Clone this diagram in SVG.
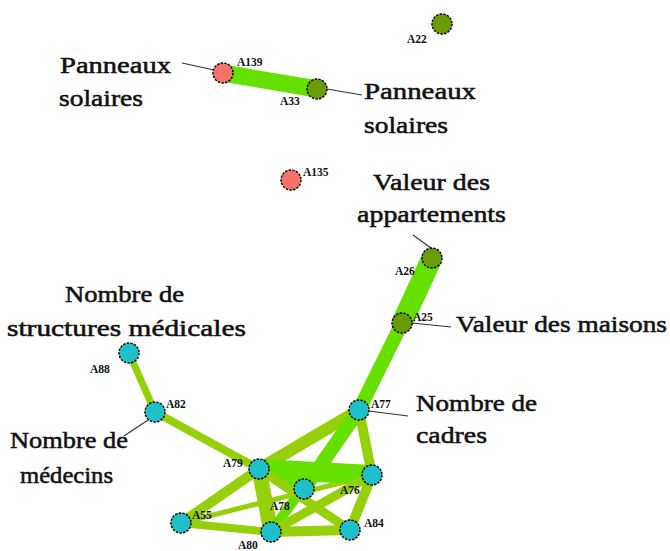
<svg xmlns="http://www.w3.org/2000/svg" width="670" height="551" viewBox="0 0 670 551">
<style>
.lbl{font-family:"Liberation Serif","DejaVu Serif",serif;font-size:24px;fill:#111;stroke:#111;stroke-width:0.55}
.nl{font-family:"Liberation Serif","DejaVu Serif",serif;font-size:11.5px;font-weight:bold;fill:#111}
.nd{stroke:#000;stroke-width:1.4;stroke-dasharray:2.5 1.2}
.red{fill:#f7736a}.olv{fill:#6a9c08}.cy{fill:#1fc0c9}
.bg{stroke:#66e000;fill:none;stroke-linecap:butt}
.yg{stroke:#96d00a;fill:none;stroke-linecap:butt}
.ld{stroke:#333;stroke-width:1.1;fill:none}
</style>
<rect width="670" height="551" fill="#fff"/>
<g id="connectors">
  <line class="bg" x1="223" y1="73" x2="317" y2="89" stroke-width="17"/>
  <line class="bg" x1="432" y1="258" x2="402" y2="323" stroke-width="21"/>
  <line class="bg" x1="402" y1="323" x2="359" y2="410" stroke-width="14"/>
  <line class="yg" x1="129" y1="353" x2="155" y2="412" stroke-width="7"/>
  <line class="yg" x1="155" y1="412" x2="259" y2="469" stroke-width="8"/>
  <line class="yg" x1="259" y1="469" x2="359" y2="410" stroke-width="12"/>
  <line class="yg" x1="181" y1="523" x2="259" y2="469" stroke-width="10"/>
  <line class="yg" x1="359" y1="410" x2="372" y2="475" stroke-width="10"/>
  <line class="yg" x1="372" y1="475" x2="350" y2="530" stroke-width="10"/>
  <line class="yg" x1="259" y1="469" x2="271" y2="532" stroke-width="15"/>
  <line class="yg" x1="271" y1="532" x2="350" y2="530" stroke-width="10"/>
  <line class="yg" x1="181" y1="523" x2="271" y2="532" stroke-width="8"/>
  <line class="yg" x1="181" y1="523" x2="372" y2="475" stroke-width="5"/>
  <line class="bg" x1="259" y1="469" x2="372" y2="475" stroke-width="20"/>
  <line class="bg" x1="359" y1="410" x2="304" y2="489" stroke-width="14"/>
  <line class="bg" x1="359" y1="410" x2="271" y2="532" stroke-width="10"/>
  <line class="bg" x1="259" y1="469" x2="304" y2="489" stroke-width="12"/>
  <line class="yg" x1="259" y1="469" x2="350" y2="530" stroke-width="9"/>
  <line class="yg" x1="271" y1="532" x2="372" y2="475" stroke-width="9"/>
  <line class="ld" x1="182" y1="63" x2="214" y2="70"/>
  <line class="ld" x1="327" y1="89" x2="362" y2="95"/>
  <line class="ld" x1="413" y1="235" x2="431" y2="248"/>
  <line class="ld" x1="412" y1="323" x2="451" y2="327"/>
  <line class="ld" x1="369" y1="411" x2="408" y2="416"/>
  <line class="ld" x1="151" y1="418" x2="124" y2="436"/>
</g>
<g id="A139"><circle class="nd red" cx="223" cy="73" r="10"/><text class="nl" x="237" y="66">A139</text></g>
<g id="A33"><circle class="nd olv" cx="317" cy="89" r="10"/><text class="nl" x="280" y="105">A33</text></g>
<g id="A22"><circle class="nd olv" cx="442" cy="24" r="10"/><text class="nl" x="407" y="43">A22</text></g>
<g id="A135"><circle class="nd red" cx="291" cy="180" r="10"/><text class="nl" x="303" y="176">A135</text></g>
<g id="A26"><circle class="nd olv" cx="432" cy="258" r="10"/><text class="nl" x="395" y="275">A26</text></g>
<g id="A25"><circle class="nd olv" cx="402" cy="323" r="10"/><text class="nl" x="413" y="321">A25</text></g>
<g id="A88"><circle class="nd cy" cx="129" cy="353" r="10"/><text class="nl" x="90" y="373">A88</text></g>
<g id="A82"><circle class="nd cy" cx="155" cy="412" r="10"/><text class="nl" x="166" y="408">A82</text></g>
<g id="A77"><circle class="nd cy" cx="359" cy="410" r="10"/><text class="nl" x="371" y="408">A77</text></g>
<g id="A79"><circle class="nd cy" cx="259" cy="469" r="10"/><text class="nl" x="223" y="467">A79</text></g>
<g id="A76"><circle class="nd cy" cx="372" cy="475" r="10"/><text class="nl" x="340" y="494">A76</text></g>
<g id="A78"><circle class="nd cy" cx="304" cy="489" r="10"/><text class="nl" x="270" y="510">A78</text></g>
<g id="A55"><circle class="nd cy" cx="181" cy="523" r="10"/><text class="nl" x="192" y="519">A55</text></g>
<g id="A80"><circle class="nd cy" cx="271" cy="532" r="10"/><text class="nl" x="238" y="549">A80</text></g>
<g id="A84"><circle class="nd cy" cx="350" cy="530" r="10"/><text class="nl" x="364" y="527">A84</text></g>
<g id="labels">
  <text class="lbl" x="60" y="73" textLength="111" lengthAdjust="spacingAndGlyphs">Panneaux</text>
  <text class="lbl" x="59" y="106" textLength="84" lengthAdjust="spacingAndGlyphs">solaires</text>
  <text class="lbl" x="364" y="99" textLength="112" lengthAdjust="spacingAndGlyphs">Panneaux</text>
  <text class="lbl" x="364" y="133" textLength="84" lengthAdjust="spacingAndGlyphs">solaires</text>
  <text class="lbl" x="373" y="190" textLength="117" lengthAdjust="spacingAndGlyphs">Valeur des</text>
  <text class="lbl" x="357" y="222" textLength="149" lengthAdjust="spacingAndGlyphs">appartements</text>
  <text class="lbl" x="456" y="332" textLength="211" lengthAdjust="spacingAndGlyphs">Valeur des maisons</text>
  <text class="lbl" x="65" y="302" textLength="119" lengthAdjust="spacingAndGlyphs">Nombre de</text>
  <text class="lbl" x="7" y="336" textLength="239" lengthAdjust="spacingAndGlyphs">structures médicales</text>
  <text class="lbl" x="10" y="448" textLength="118" lengthAdjust="spacingAndGlyphs">Nombre de</text>
  <text class="lbl" x="20" y="483" textLength="93" lengthAdjust="spacingAndGlyphs">médecins</text>
  <text class="lbl" x="416" y="411" textLength="121" lengthAdjust="spacingAndGlyphs">Nombre de</text>
  <text class="lbl" x="416" y="443" textLength="71" lengthAdjust="spacingAndGlyphs">cadres</text>
</g>
</svg>
